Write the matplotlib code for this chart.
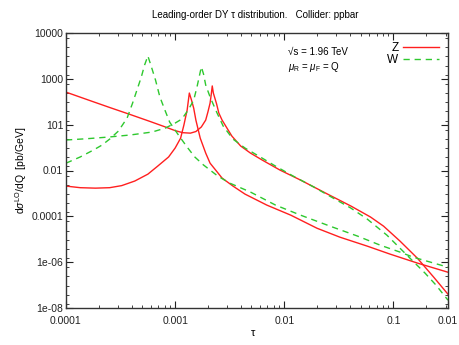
import numpy as np
import matplotlib
matplotlib.use("Agg")
import matplotlib.pyplot as plt
from matplotlib.ticker import FixedLocator, NullFormatter

plt.rcParams['font.family'] = ['Liberation Sans', 'DejaVu Sans']
plt.rcParams['mathtext.fontset'] = 'custom'
plt.rcParams['mathtext.rm'] = 'Liberation Sans'
plt.rcParams['mathtext.it'] = 'Liberation Sans:italic'

# values, as log10(tau) and log10(dsigma/dQ)

# Z, curve with the minimum then the peak at the Z pole
z1_logtau = [-4.00, -3.78, -3.60, -3.41, -3.23, -3.09, -3.00, -2.93, -2.86, -2.81,
             -2.76, -2.72, -2.70, -2.68, -2.67, -2.66, -2.65, -2.62, -2.60, -2.57,
             -2.52, -2.48, -2.40, -2.31, -2.20, -2.04, -1.85, -1.62, -1.39, -1.21,
             -1.09, -0.94, -0.78, -0.63, -0.50]
z1_logsig = [1.42, 1.05, 0.75, 0.44, 0.14, -0.10, -0.26, -0.35, -0.37, -0.30,
             -0.10, 0.20, 0.55, 0.94, 1.29, 1.69, 1.38, 0.90, 0.51, 0.20,
             -0.19, -0.50, -0.93, -1.24, -1.55, -1.98, -2.42, -2.99, -3.55, -4.03,
             -4.43, -5.08, -5.83, -6.66, -7.40]

# Z, low curve
z2_logtau = [-4.00, -3.87, -3.73, -3.60, -3.49, -3.37, -3.25, -3.16, -3.06, -3.00,
             -2.95, -2.92, -2.89, -2.87, -2.85, -2.83, -2.81, -2.77, -2.72, -2.68,
             -2.57, -2.47, -2.36, -2.16, -1.94, -1.70, -1.49, -1.24, -1.03, -0.78,
             -0.50]
z2_logsig = [-2.68, -2.75, -2.77, -2.75, -2.66, -2.46, -2.16, -1.81, -1.41, -1.02,
             -0.59, -0.02, 0.64, 1.38, 1.07, 0.72, 0.20, -0.59, -1.24, -1.68,
             -2.33, -2.68, -3.03, -3.51, -3.95, -4.52, -4.91, -5.30, -5.65, -6.04,
             -6.44]

# W, curve with the early peak
w1_logtau = [-4.00, -3.87, -3.75, -3.67, -3.60, -3.52, -3.44, -3.39, -3.35, -3.31,
             -3.28, -3.25, -3.22, -3.18, -3.14, -3.09, -3.05, -2.97, -2.89, -2.82,
             -2.74, -2.61, -2.50, -2.31, -2.08, -1.85, -1.58, -1.33, -1.12, -0.94,
             -0.82, -0.66, -0.50]
w1_logsig = [-1.68, -1.41, -1.11, -0.89, -0.63, -0.28, 0.29, 0.94, 1.51, 2.08,
             2.60, 3.00, 2.56, 1.95, 1.21, 0.59, 0.11, -0.45, -0.98, -1.41,
             -1.76, -2.24, -2.55, -2.94, -3.51, -3.95, -4.43, -4.86, -5.26, -5.56,
             -5.78, -6.00, -6.22]

# W, curve with the peak at the W pole
w2_logtau = [-4.00, -3.80, -3.61, -3.41, -3.21, -3.09, -3.00, -2.94, -2.88, -2.83,
             -2.80, -2.78, -2.76, -2.74, -2.72, -2.68, -2.62, -2.56, -2.47, -2.36,
             -2.22, -2.08, -1.92, -1.73, -1.55, -1.39, -1.24, -1.06, -0.94, -0.82,
             -0.71, -0.61, -0.50]
w2_logsig = [-0.67, -0.61, -0.54, -0.45, -0.32, -0.15, 0.07, 0.24, 0.64, 1.07,
             1.64, 2.08, 2.52, 2.21, 1.73, 1.21, 0.55, -0.06, -0.63, -1.02,
             -1.41, -1.81, -2.24, -2.72, -3.21, -3.64, -4.12, -4.82, -5.39, -5.96,
             -6.48, -7.00, -7.66]

xtick_vals = [1e-4, 1e-3, 1e-2, 1e-1, 10 ** -0.5]
xtick_labels = ["0.0001", "0.001", "0.01", "0.1", "0.01"]
ytick_vals = [1e4, 1e2, 1e0, 1e-2, 1e-4, 1e-6, 1e-8]
ytick_labels = ["10000", "1000", "101", "0.01", "0.0001", "1e-06", "1e-08"]

red = '#ff1f1f'
green = '#2ec82e'

fig = plt.figure(figsize=(4.59, 3.45), dpi=100)
ax = fig.add_axes([66 / 459, 1 - 308 / 345, 382 / 459, 275 / 345])

ax.plot(10 ** np.array(z1_logtau), 10 ** np.array(z1_logsig), color=red, lw=1.0, label='Z')
ax.plot(10 ** np.array(z2_logtau), 10 ** np.array(z2_logsig), color=red, lw=1.0)
ax.plot(10 ** np.array(w1_logtau), 10 ** np.array(w1_logsig), color=green, lw=1.0,
        dashes=(4.5, 3.5), label='W')
ax.plot(10 ** np.array(w2_logtau), 10 ** np.array(w2_logsig), color=green, lw=1.0,
        dashes=(4.5, 3.5))

ax.set_xscale('log')
ax.set_yscale('log')
ax.set_xlim(1e-4, 10 ** -0.5)
ax.set_ylim(1e-8, 1e4)

ax.set_xticks(xtick_vals)
ax.set_xticklabels(xtick_labels)
ax.set_yticks(ytick_vals)
ax.set_yticklabels(ytick_labels)
ax.xaxis.set_minor_locator(FixedLocator(
    [m * 10.0 ** e for e in range(-4, 0) for m in range(2, 10) if m * 10.0 ** e < 0.32]))
ax.yaxis.set_minor_locator(FixedLocator(10 ** (3.78 - 0.4 * np.arange(30))))
ax.xaxis.set_minor_formatter(NullFormatter())
ax.yaxis.set_minor_formatter(NullFormatter())

ax.tick_params(which='both', direction='in', top=True, right=True, labelsize=7.5,
               colors='#222222')
ax.tick_params(which='major', length=5, width=0.8)
ax.tick_params(which='minor', length=2.5, width=0.6)
ax.tick_params(axis='x', pad=6)
ax.tick_params(axis='y', pad=2)
for s in ax.spines.values():
    s.set_linewidth(1.0)
    s.set_color('#333333')

ax.set_ylabel(r'd$\sigma^{\rm LO}$/dQ  [pb/GeV]', fontsize=7.5)
ax.yaxis.set_label_coords(-0.097, 0.5)
fig.text(253 / 459, 1 - 333 / 345, 'τ', ha='center', va='center', fontsize=8)
fig.text(255 / 459, 1 - 15 / 345, 'Leading-order DY τ distribution.   Collider: ppbar',
         ha='center', va='center', fontsize=7)

ax.text(0.58, 0.93, '√s = 1.96 TeV', transform=ax.transAxes, fontsize=7,
        ha='left', va='center')
ax.text(0.58, 0.875, r'$\mu_{\rm R}$ = $\mu_{\rm F}$ = Q', transform=ax.transAxes,
        fontsize=7, ha='left', va='center')

ax.legend(loc='upper right', bbox_to_anchor=(1.0, 1.0), frameon=False, markerfirst=False,
          fontsize=8.5, handlelength=3.0, handletextpad=0.4, labelspacing=0.0,
          borderaxespad=0.4)

fig.savefig('out.png', dpi=100)
